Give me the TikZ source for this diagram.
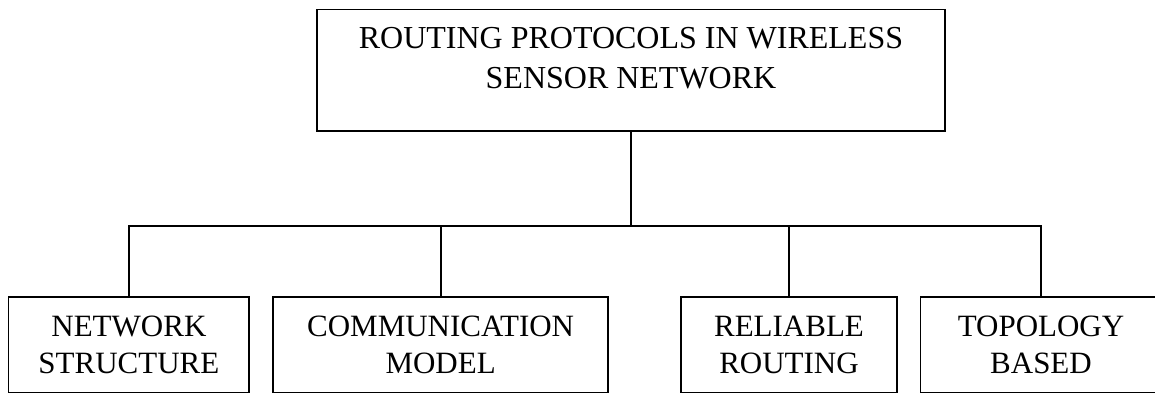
\documentclass[tikz,border=0pt]{standalone}
\usepackage{fontspec}
\setmainfont{Liberation Serif}
\begin{document}
\begin{tikzpicture}[x=1pt,y=-1pt,
  box/.style={draw=black, line width=1.7pt, inner sep=0pt, align=center,
    font=\fontsize{31}{37.3}\selectfont},
  title/.style={inner sep=0pt, align=center, font=\fontsize{32}{39.3}\selectfont},
  link/.style={draw=black, line width=1.7pt}]
\useasboundingbox (0,0) rectangle (1155,394);
\clip (0,0) rectangle (1155,394);

% root box and its caption
\node[box, minimum width=628pt, minimum height=121.5pt] (root) at (631,70.25) {};
\node[title, anchor=north] (rootlbl) at ([yshift=-18.8pt]root.north)
  {ROUTING PROTOCOLS IN WIRELESS\\SENSOR NETWORK};

% branch point below the root
\coordinate (hub) at (631,225.7);

% the four categories
\node[box, minimum width=240.8pt, minimum height=95.2pt] (ns) at (128.9,344.9) {NETWORK\\STRUCTURE};
\node[box, minimum width=334.7pt, minimum height=95.2pt] (cm) at (440.65,344.9) {COMMUNICATION\\MODEL};
\node[box, minimum width=216pt, minimum height=95.2pt] (rr) at (789,344.9) {RELIABLE\\ROUTING};
\node[box, minimum width=241pt, minimum height=95.2pt] (tb) at (1041,344.9) {TOPOLOGY\\BASED};

% tree connectors
\draw[link] (root.south) -- (hub);
\draw[link] (hub) -| (ns.north);
\draw[link] (hub) -| (cm.north);
\draw[link] (hub) -| (rr.north);
\draw[link] (hub) -| (tb.north);
\end{tikzpicture}
\end{document}
